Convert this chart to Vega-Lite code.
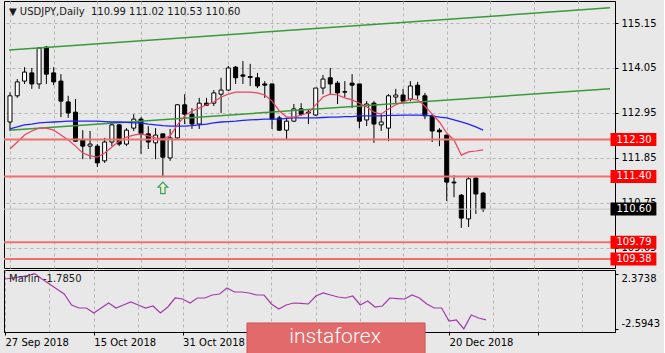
{
  "$schema": "https://vega.github.io/schema/vega-lite/v6.json",
  "background": "#e8e8e8",
  "padding": {"left": 2, "top": 0, "right": 0, "bottom": 0},
  "config": {
    "view": {"stroke": "#000000", "strokeWidth": 1, "fill": "#e8e8e8"},
    "font": "DejaVu Sans",
    "axis": {"labelFont": "DejaVu Sans", "labelFontSize": 10, "labelColor": "#000000", "domainColor": "#000000", "tickColor": "#000000", "gridColor": "#b4b4b4", "gridDash": [3, 3], "labelFlush": false}
  },
  "datasets": {
    "candles": [
      {"i":0,"o":112.73,"h":113.45,"l":112.51,"c":113.37},
      {"i":1,"o":113.37,"h":113.78,"l":113.32,"c":113.71},
      {"i":2,"o":113.73,"h":114.07,"l":113.66,"c":113.95},
      {"i":3,"o":113.93,"h":114.05,"l":113.54,"c":113.66},
      {"i":4,"o":113.66,"h":114.56,"l":113.54,"c":114.54},
      {"i":5,"o":114.56,"h":114.59,"l":113.66,"c":113.90},
      {"i":6,"o":113.93,"h":114.07,"l":113.63,"c":113.71},
      {"i":7,"o":113.73,"h":113.90,"l":112.85,"c":113.24},
      {"i":8,"o":113.22,"h":113.37,"l":112.83,"c":112.95},
      {"i":9,"o":112.97,"h":113.29,"l":112.24,"c":112.26},
      {"i":10,"o":112.29,"h":112.53,"l":111.82,"c":112.14},
      {"i":11,"o":112.14,"h":112.51,"l":111.82,"c":112.19},
      {"i":12,"o":112.14,"h":112.19,"l":111.63,"c":111.73},
      {"i":13,"o":111.78,"h":112.34,"l":111.73,"c":112.24},
      {"i":14,"o":112.24,"h":112.71,"l":112.14,"c":112.66},
      {"i":15,"o":112.66,"h":112.68,"l":112.14,"c":112.19},
      {"i":16,"o":112.19,"h":112.58,"l":112.14,"c":112.53},
      {"i":17,"o":112.58,"h":112.92,"l":112.51,"c":112.80},
      {"i":18,"o":112.80,"h":112.85,"l":111.95,"c":112.44},
      {"i":19,"o":112.44,"h":112.63,"l":112.07,"c":112.24},
      {"i":20,"o":112.22,"h":112.58,"l":111.82,"c":112.41},
      {"i":21,"o":112.44,"h":112.44,"l":111.38,"c":111.87},
      {"i":22,"o":111.85,"h":112.56,"l":111.78,"c":112.34},
      {"i":23,"o":112.34,"h":113.17,"l":112.29,"c":113.15},
      {"i":24,"o":113.15,"h":113.41,"l":112.68,"c":112.92},
      {"i":25,"o":112.92,"h":113.07,"l":112.56,"c":112.68},
      {"i":26,"o":112.68,"h":113.32,"l":112.56,"c":113.19},
      {"i":27,"o":113.19,"h":113.32,"l":113.12,"c":113.14},
      {"i":28,"o":113.19,"h":113.51,"l":113.12,"c":113.44},
      {"i":29,"o":113.41,"h":113.81,"l":112.95,"c":113.51},
      {"i":30,"o":113.51,"h":114.10,"l":113.49,"c":114.05},
      {"i":31,"o":114.07,"h":114.10,"l":113.66,"c":113.81},
      {"i":32,"o":113.88,"h":114.22,"l":113.66,"c":113.85},
      {"i":33,"o":113.84,"h":114.15,"l":113.61,"c":113.82},
      {"i":34,"o":113.81,"h":113.93,"l":113.56,"c":113.61},
      {"i":35,"o":113.66,"h":113.73,"l":113.32,"c":113.63},
      {"i":36,"o":113.66,"h":113.66,"l":112.56,"c":112.80},
      {"i":37,"o":112.83,"h":112.88,"l":112.51,"c":112.53},
      {"i":38,"o":112.53,"h":112.83,"l":112.31,"c":112.75},
      {"i":39,"o":112.75,"h":113.17,"l":112.73,"c":113.05},
      {"i":40,"o":113.05,"h":113.19,"l":112.88,"c":112.92},
      {"i":41,"o":112.95,"h":113.05,"l":112.68,"c":112.97},
      {"i":42,"o":112.90,"h":113.56,"l":112.88,"c":113.56},
      {"i":43,"o":113.56,"h":113.88,"l":113.41,"c":113.78},
      {"i":44,"o":113.81,"h":114.05,"l":113.41,"c":113.66},
      {"i":45,"o":113.68,"h":113.73,"l":113.17,"c":113.44},
      {"i":46,"o":113.47,"h":113.73,"l":113.34,"c":113.46},
      {"i":47,"o":113.68,"h":113.90,"l":113.07,"c":113.63},
      {"i":48,"o":113.66,"h":113.66,"l":112.58,"c":112.75},
      {"i":49,"o":112.78,"h":113.24,"l":112.63,"c":113.17},
      {"i":50,"o":113.19,"h":113.24,"l":112.22,"c":112.68},
      {"i":51,"o":112.66,"h":112.92,"l":112.51,"c":112.73},
      {"i":52,"o":112.58,"h":113.41,"l":112.26,"c":113.37},
      {"i":53,"o":113.34,"h":113.54,"l":113.17,"c":113.39},
      {"i":54,"o":113.39,"h":113.54,"l":113.19,"c":113.24},
      {"i":55,"o":113.29,"h":113.73,"l":113.24,"c":113.61},
      {"i":56,"o":113.63,"h":113.71,"l":113.29,"c":113.39},
      {"i":57,"o":113.37,"h":113.44,"l":112.80,"c":112.88},
      {"i":58,"o":112.88,"h":112.92,"l":112.24,"c":112.51},
      {"i":59,"o":112.53,"h":112.58,"l":112.14,"c":112.49},
      {"i":60,"o":112.41,"h":112.41,"l":110.80,"c":111.26},
      {"i":61,"o":111.26,"h":111.43,"l":110.89,"c":111.24},
      {"i":62,"o":110.94,"h":110.97,"l":110.14,"c":110.38},
      {"i":63,"o":110.36,"h":111.41,"l":110.16,"c":111.34},
      {"i":64,"o":111.36,"h":111.39,"l":110.48,"c":110.97},
      {"i":65,"o":110.99,"h":111.02,"l":110.53,"c":110.60}
    ],
    "ma": [
      {"i":0,"red":112.07,"blue":112.56},{"i":1,"red":112.24,"blue":112.61},{"i":2,"red":112.41,"blue":112.66},
      {"i":3,"red":112.51,"blue":112.68},{"i":4,"red":112.58,"blue":112.71},{"i":5,"red":112.58,"blue":112.72},
      {"i":6,"red":112.53,"blue":112.73},{"i":7,"red":112.41,"blue":112.74},{"i":8,"red":112.29,"blue":112.75},
      {"i":9,"red":112.14,"blue":112.75},{"i":10,"red":111.97,"blue":112.75},{"i":11,"red":111.90,"blue":112.75},
      {"i":12,"red":111.87,"blue":112.75},{"i":13,"red":111.97,"blue":112.74},{"i":14,"red":112.12,"blue":112.73},
      {"i":15,"red":112.26,"blue":112.73},{"i":16,"red":112.36,"blue":112.72},{"i":17,"red":112.41,"blue":112.71},
      {"i":18,"red":112.44,"blue":112.71},{"i":19,"red":112.39,"blue":112.68},{"i":20,"red":112.34,"blue":112.66},
      {"i":21,"red":112.31,"blue":112.64},{"i":22,"red":112.39,"blue":112.63},{"i":23,"red":112.66,"blue":112.63},
      {"i":24,"red":112.88,"blue":112.63},{"i":25,"red":113.00,"blue":112.64},{"i":26,"red":113.07,"blue":112.66},
      {"i":27,"red":113.15,"blue":112.68},{"i":28,"red":113.22,"blue":112.71},{"i":29,"red":113.34,"blue":112.73},
      {"i":30,"red":113.41,"blue":112.74},{"i":31,"red":113.46,"blue":112.75},{"i":32,"red":113.46,"blue":112.77},
      {"i":33,"red":113.46,"blue":112.78},{"i":34,"red":113.44,"blue":112.79},{"i":35,"red":113.39,"blue":112.80},
      {"i":36,"red":113.24,"blue":112.80},{"i":37,"red":113.00,"blue":112.80},{"i":38,"red":112.85,"blue":112.82},
      {"i":39,"red":112.85,"blue":112.83},{"i":40,"red":112.90,"blue":112.83},{"i":41,"red":112.95,"blue":112.83},
      {"i":42,"red":113.15,"blue":112.83},{"i":43,"red":113.34,"blue":112.84},{"i":44,"red":113.41,"blue":112.85},
      {"i":45,"red":113.39,"blue":112.85},{"i":46,"red":113.32,"blue":112.86},{"i":47,"red":113.27,"blue":112.86},
      {"i":48,"red":113.19,"blue":112.88},{"i":49,"red":113.10,"blue":112.88},{"i":50,"red":112.97,"blue":112.88},
      {"i":51,"red":112.92,"blue":112.88},{"i":52,"red":113.05,"blue":112.89},{"i":53,"red":113.15,"blue":112.89},
      {"i":54,"red":113.22,"blue":112.90},{"i":55,"red":113.29,"blue":112.90},{"i":56,"red":113.27,"blue":112.90},
      {"i":57,"red":113.12,"blue":112.89},{"i":58,"red":112.92,"blue":112.88},{"i":59,"red":112.73,"blue":112.85},
      {"i":60,"red":112.46,"blue":112.83},{"i":61,"red":112.29,"blue":112.78},{"i":62,"red":111.92,"blue":112.73},
      {"i":63,"red":112.00,"blue":112.68},{"i":64,"red":112.02,"blue":112.61},{"i":65,"red":112.05,"blue":112.53}
    ],
    "marlin": [
      {"i":0,"v":1.89},{"i":1,"v":1.98},{"i":2,"v":2.07},{"i":3,"v":2.2},{"i":4,"v":2.3738},{"i":5,"v":1.89},
      {"i":6,"v":1.44},{"i":7,"v":0.99},{"i":8,"v":0.54},{"i":9,"v":-0.45},{"i":10,"v":-0.72},{"i":11,"v":-0.72},
      {"i":12,"v":-1.17},{"i":13,"v":-0.72},{"i":14,"v":-0.27},{"i":15,"v":-0.72},{"i":16,"v":-0.45},{"i":17,"v":-0.18},
      {"i":18,"v":-0.45},{"i":19,"v":-0.72},{"i":20,"v":-0.54},{"i":21,"v":-1.17},{"i":22,"v":-0.63},{"i":23,"v":0.18},
      {"i":24,"v":0.09},{"i":25,"v":-0.27},{"i":26,"v":0.18},{"i":27,"v":0.18},{"i":28,"v":0.45},{"i":29,"v":0.54},
      {"i":30,"v":1.08},{"i":31,"v":0.72},{"i":32,"v":0.72},{"i":33,"v":0.63},{"i":34,"v":0.45},{"i":35,"v":0.45},
      {"i":36,"v":-0.36},{"i":37,"v":-0.81},{"i":38,"v":-0.45},{"i":39,"v":-0.27},{"i":40,"v":-0.31},{"i":41,"v":-0.36},
      {"i":42,"v":0.36},{"i":43,"v":0.63},{"i":44,"v":0.45},{"i":45,"v":0.27},{"i":46,"v":0.18},{"i":47,"v":0.36},
      {"i":48,"v":-0.45},{"i":49,"v":-0.09},{"i":50,"v":-0.63},{"i":51,"v":-0.54},{"i":52,"v":0.18},{"i":53,"v":0.13},
      {"i":54,"v":0.09},{"i":55,"v":0.45},{"i":56,"v":0.18},{"i":57,"v":-0.36},{"i":58,"v":-0.72},{"i":59,"v":-0.72},
      {"i":60,"v":-1.89},{"i":61,"v":-1.8},{"i":62,"v":-2.5943},{"i":63,"v":-1.35},{"i":64,"v":-1.62},{"i":65,"v":-1.785}
    ],
    "trend": [
      {"line":"upper","i":-0.135,"p":114.49},{"line":"upper","i":82.43,"p":115.52},
      {"line":"lower","i":-0.135,"p":112.53},{"line":"lower","i":82.43,"p":113.54}
    ],
    "levels": [{"price":112.30},{"price":111.40},{"price":109.79},{"price":109.38}],
    "current": [{"price":110.60}],
    "arrow": [{"i":21,"p":111.12}],
    "brand": [{"name":"instaforex"}]
  },
  "vconcat": [
    {
      "width": 611,
      "height": 267,
      "title": {"text": "\u25bc USDJPY,Daily\u00a0 110.99 111.02 110.53 110.60", "anchor": "start", "frame": "group", "orient": "top", "offset": -24, "dx": 5, "baseline": "alphabetic", "font": "DejaVu Sans", "fontSize": 10, "fontWeight": "normal", "color": "#1a1a1a"},
      "layer": [
        {
          "data": {"name": "candles"},
          "mark": {"type": "rule", "color": "#000000", "strokeWidth": 1, "clip": true},
          "encoding": {
            "x": {"field": "i", "type": "quantitative", "scale": {"domain": [-0.135, 82.43], "nice": false, "zero": false},
              "axis": {"title": null, "grid": true, "labels": false, "ticks": false, "domain": false, "values": [0,6,12,18,24,30,36,42,48,54,60,66,72,78]}},
            "y": {"field": "l", "type": "quantitative", "scale": {"domain": [109.16, 115.688], "nice": false, "zero": false},
              "axis": {"title": null, "orient": "right", "values": [115.15, 114.05, 112.95, 111.85, 110.75, 109.65], "format": ".2f", "grid": true, "tickSize": 3, "labelPadding": 3}},
            "y2": {"field": "h"}
          }
        },
        {
          "data": {"name": "candles"},
          "mark": {"type": "bar", "orient": "vertical", "width": 4, "stroke": "#000000", "strokeWidth": 1, "clip": true},
          "encoding": {
            "x": {"field": "i", "type": "quantitative"},
            "y": {"field": "o", "type": "quantitative"},
            "y2": {"field": "c"},
            "fill": {"condition": {"test": "datum.c >= datum.o", "value": "#ffffff"}, "value": "#000000"}
          }
        },
        {
          "data": {"name": "trend"},
          "mark": {"type": "line", "color": "#3a9a3a", "strokeWidth": 1.5},
          "encoding": {"x": {"field": "i", "type": "quantitative"}, "y": {"field": "p", "type": "quantitative"}, "detail": {"field": "line"}}
        },
        {
          "data": {"name": "ma"},
          "mark": {"type": "line", "color": "#2222ff", "strokeWidth": 1.3},
          "encoding": {"x": {"field": "i", "type": "quantitative"}, "y": {"field": "blue", "type": "quantitative"}}
        },
        {
          "data": {"name": "ma"},
          "mark": {"type": "line", "color": "#e8455f", "strokeWidth": 1.2},
          "encoding": {"x": {"field": "i", "type": "quantitative"}, "y": {"field": "red", "type": "quantitative"}}
        },
        {
          "data": {"name": "current"},
          "mark": {"type": "rule", "color": "#c4c4c4", "strokeWidth": 1},
          "encoding": {"y": {"field": "price", "type": "quantitative"}}
        },
        {
          "data": {"name": "levels"},
          "mark": {"type": "rule", "color": "#f07070", "strokeWidth": 2},
          "encoding": {"y": {"field": "price", "type": "quantitative"}}
        },
        {
          "data": {"name": "arrow"},
          "mark": {"type": "point", "shape": "M0,-1L0.85,-0.1L0.38,-0.1L0.38,1L-0.38,1L-0.38,-0.1L-0.85,-0.1Z", "filled": true, "fill": "#f6f3b8", "stroke": "#2f9e78", "strokeWidth": 1.2, "size": 130, "opacity": 1},
          "encoding": {"x": {"field": "i", "type": "quantitative"}, "y": {"field": "p", "type": "quantitative"}}
        },
        {
          "data": {"name": "levels"},
          "mark": {"type": "rule", "color": "#ff0000", "strokeWidth": 13, "strokeCap": "butt"},
          "encoding": {"x": {"datum": 82.5, "type": "quantitative"}, "x2": {"datum": 88.8}, "y": {"field": "price", "type": "quantitative"}}
        },
        {
          "data": {"name": "current"},
          "mark": {"type": "rule", "color": "#000000", "strokeWidth": 13, "strokeCap": "butt"},
          "encoding": {"x": {"datum": 82.5, "type": "quantitative"}, "x2": {"datum": 88.8}, "y": {"field": "price", "type": "quantitative"}}
        },
        {
          "data": {"name": "levels"},
          "mark": {"type": "text", "align": "left", "baseline": "middle", "dx": 6, "font": "DejaVu Sans", "fontSize": 10, "color": "#ffffff"},
          "encoding": {"x": {"datum": 82.5, "type": "quantitative"}, "y": {"field": "price", "type": "quantitative"}, "text": {"field": "price", "type": "quantitative", "format": ".2f"}}
        },
        {
          "data": {"name": "current"},
          "mark": {"type": "text", "align": "left", "baseline": "middle", "dx": 6, "font": "DejaVu Sans", "fontSize": 10, "color": "#ffffff"},
          "encoding": {"x": {"datum": 82.5, "type": "quantitative"}, "y": {"field": "price", "type": "quantitative"}, "text": {"field": "price", "type": "quantitative", "format": ".2f"}}
        }
      ]
    },
    {
      "width": 611,
      "height": 62,
      "title": {"text": "Marlin -1.7850", "anchor": "start", "frame": "group", "orient": "top", "offset": -22, "dx": 5, "baseline": "alphabetic", "font": "DejaVu Sans", "fontSize": 10, "fontWeight": "normal", "color": "#1a1a1a"},
      "layer": [
        {
          "data": {"name": "marlin"},
          "mark": {"type": "line", "color": "#a23ca8", "strokeWidth": 1.2},
          "encoding": {
            "x": {"field": "i", "type": "quantitative", "scale": {"domain": [-0.135, 82.43], "nice": false, "zero": false},
              "axis": {"title": null, "grid": true, "values": [0,6,12,18,24,30,36,42,48,54,60,66,72,78], "labelAlign": "left", "labelPadding": 2, "tickSize": 3, "labelOverlap": false,
                "tickOpacity": {"condition": {"test": "datum.value % 12 == 0", "value": 1}, "value": 0},
                "labelExpr": "datum.value == 0 ? '27 Sep 2018' : datum.value == 12 ? '15 Oct 2018' : datum.value == 24 ? '31 Oct 2018' : datum.value == 36 ? '16 Nov 2018' : datum.value == 48 ? '4 Dec 2018' : datum.value == 60 ? '20 Dec 2018' : ''"}},
            "y": {"field": "v", "type": "quantitative", "scale": {"domain": [-2.88, 2.70], "nice": false, "zero": false},
              "axis": {"title": null, "orient": "right", "values": [2.3738, 0, -2.5943], "tickSize": 3, "labelPadding": 3, "labelFlush": 8, "grid": true,
                "gridOpacity": {"condition": {"test": "datum.value == 0", "value": 1}, "value": 0},
                "labelExpr": "datum.value == 0 ? '0.00' : replace(format(datum.value, '.4f'), '\u2212', '-')"}}
          }
        },
        {
          "data": {"name": "brand"},
          "mark": {"type": "rect", "fill": "#e36a6a", "stroke": "#c85454", "strokeWidth": 1},
          "encoding": {"x": {"datum": 32.7, "type": "quantitative"}, "x2": {"datum": 56.76}, "y": {"datum": -2.07, "type": "quantitative"}, "y2": {"datum": -4.86}}
        },
        {
          "data": {"name": "brand"},
          "mark": {"type": "text", "align": "center", "baseline": "middle", "font": "Roboto", "fontWeight": 300, "fontSize": 21, "color": "#ffffff"},
          "encoding": {"x": {"datum": 44.6, "type": "quantitative"}, "y": {"datum": -3.33, "type": "quantitative"}, "text": {"field": "name"}}
        }
      ]
    }
  ],
  "spacing": 2,
  "bounds": "flush"
}
